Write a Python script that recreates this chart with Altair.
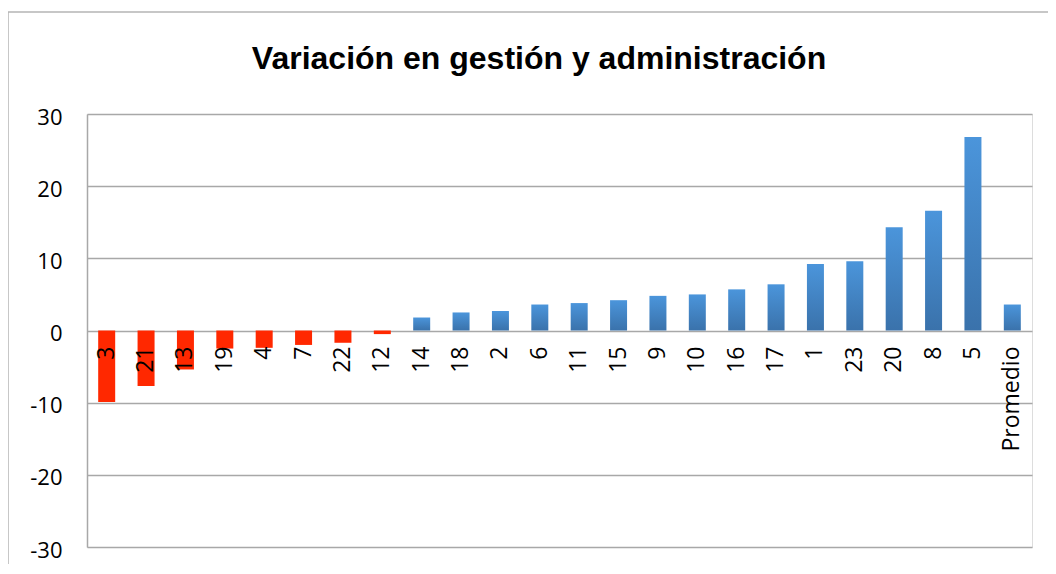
import altair as alt
import pandas as pd

categories = ["3", "21", "13", "19", "4", "7", "22", "12", "14", "18", "2", "6",
              "11", "15", "9", "10", "16", "17", "1", "23", "20", "8", "5", "Promedio"]
values = [-9.9, -7.7, -5.4, -2.5, -2.4, -2.0, -1.7, -0.5, 1.8, 2.5, 2.7, 3.6,
          3.8, 4.2, 4.8, 5.0, 5.7, 6.4, 9.2, 9.6, 14.3, 16.6, 26.8, 3.6]
y_ticks = [-30, -20, -10, 0, 10, 20, 30]

df = pd.DataFrame({"cat": categories, "val": values})

W, H = 945, 433
PL, PT, PR, PB = 79, 106, 16, 17

xscale = alt.Scale(domain=categories, paddingInner=0, paddingOuter=0)
yscale = alt.Scale(domain=[-30, 30], nice=False, zero=False)

x_enc = alt.X("cat:N", scale=xscale, axis=None, sort=categories)
y_enc = alt.Y("val:Q", scale=yscale, title=None,
              axis=alt.Axis(values=y_ticks, grid=True, gridColor="#A8A8A8", gridWidth=1.5,
                            domainColor="#A8A8A8", domainWidth=1.5, ticks=False,
                            labelPadding=25, labelFontSize=22, labelFont="Open Sans",
                            labelColor="#000000", labelOffset=3,
                            labelExpr="'' + datum.value"))

base = alt.Chart(df)

blue = alt.Gradient(gradient="linear", x1=0, y1=0, x2=0, y2=1,
                    stops=[alt.GradientStop(color="#4B95DB", offset=0),
                           alt.GradientStop(color="#3A72AB", offset=1)])

neg = base.transform_filter("datum.val < 0").mark_bar(size=17, color="#FF2800").encode(
    x=x_enc, y=y_enc, y2=alt.datum(0))
pos = base.transform_filter("datum.val >= 0").mark_bar(size=17, color=blue).encode(
    x=x_enc, y=y_enc, y2=alt.datum(0))

labels = base.mark_text(angle=270, align="right", baseline="middle", dx=-16,
                        fontSize=23, font="Open Sans", color="#000000").encode(
    x=x_enc, y=alt.datum(0), text="cat:N")

one = alt.Chart(pd.DataFrame({"a": [0]}))
frame_top = one.mark_rule(color="#B5B5B5", strokeWidth=1.5).encode(
    x=alt.value(-PL), x2=alt.value(W + PR + 40), y=alt.value(-PT + 4))
frame_left = one.mark_rule(color="#B5B5B5", strokeWidth=1.5).encode(
    x=alt.value(-PL), y=alt.value(-PT + 4), y2=alt.value(H + PB + 40))

title = one.mark_text(fontSize=32, font="Liberation Sans", fontWeight="bold",
                      align="center", baseline="alphabetic", color="#000000").encode(
    x=alt.value(539 - 8 - PL), y=alt.value(69 - 8 - PT),
    text=alt.value("Variación en gestión y administración"))

chart = alt.layer(frame_top, frame_left, neg, pos, labels, title).properties(
    width=W, height=H,
    padding={"left": PL, "top": PT, "right": PR, "bottom": PB},
    autosize=alt.AutoSizeParams(type="none"),
).configure_view(stroke=None).configure(background="#FFFFFF")

chart.save("out.html", embed_options={"renderer": "svg", "actions": False})
